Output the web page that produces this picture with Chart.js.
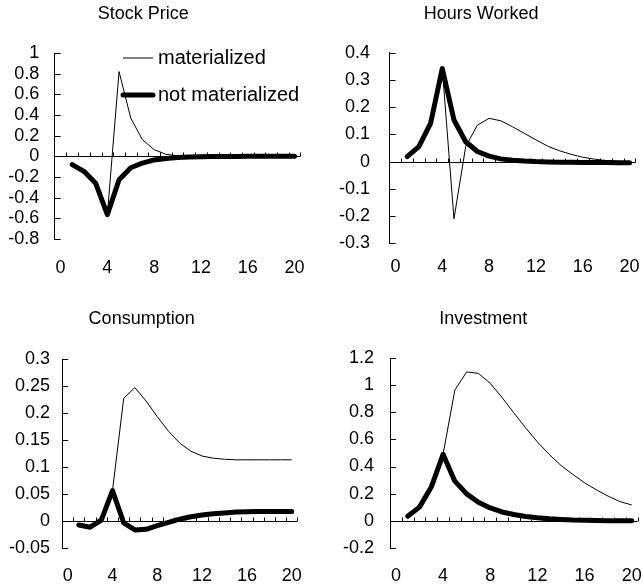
<!DOCTYPE html>
<html>
<head>
<meta charset="utf-8">
<script src="https://cdn.jsdelivr.net/npm/chart.js@4/dist/chart.umd.min.js"></script>
<style>
html, body { margin: 0; padding: 0; background: #fff; }
#wrap { position: relative; width: 643px; height: 588px; overflow: hidden; }
canvas { position: absolute; }
</style>
</head>
<body>
<div id="wrap">
  <canvas id="cStock"></canvas>
  <canvas id="cHours"></canvas>
  <canvas id="cCons"></canvas>
  <canvas id="cInv"></canvas>
</div>
<script>
// data
const periods = [1, 2, 3, 4, 5, 6, 7, 8, 9, 10, 11, 12, 13, 14, 15, 16, 17, 18, 19, 20];
const xTickValues = [0, 4, 8, 12, 16, 20];
const seriesNames = ['materialized', 'not materialized'];

const stockMaterialized = [-0.08, -0.145, -0.26, -0.565, 0.82, 0.37, 0.16, 0.065, 0.02, 0.005, 0, 0, 0, 0, 0, 0, 0, 0, 0, 0];
const stockNotMaterialized = [-0.08, -0.145, -0.26, -0.565, -0.226, -0.11, -0.065, -0.035, -0.02, -0.012, -0.007, -0.004, -0.002, -0.001, -0.001, 0, 0, 0, 0, 0];
const stockTicks = [-0.8, -0.6, -0.4, -0.2, 0, 0.2, 0.4, 0.6, 0.8, 1];

const hoursMaterialized = [0.018, 0.055, 0.14, 0.342, -0.21, 0.055, 0.134, 0.159, 0.15, 0.128, 0.104, 0.08, 0.057, 0.04, 0.027, 0.016, 0.009, 0.004, 0.001, -0.002];
const hoursNotMaterialized = [0.018, 0.055, 0.14, 0.342, 0.153, 0.073, 0.037, 0.02, 0.01, 0.005, 0.002, 0, -0.001, -0.002, -0.002, -0.003, -0.003, -0.003, -0.004, -0.004];
const hoursTicks = [-0.3, -0.2, -0.1, 0, 0.1, 0.2, 0.3, 0.4];

const consMaterialized = [-0.008, -0.012, 0.001, 0.056, 0.227, 0.247, 0.222, 0.193, 0.166, 0.144, 0.129, 0.12, 0.116, 0.114, 0.113, 0.113, 0.113, 0.113, 0.113, 0.113];
const consNotMaterialized = [-0.008, -0.012, 0.001, 0.056, -0.004, -0.017, -0.016, -0.009, -0.003, 0.003, 0.0075, 0.0105, 0.013, 0.0145, 0.016, 0.0165, 0.017, 0.0172, 0.017, 0.017];
const consTicks = [-0.05, 0, 0.05, 0.1, 0.15, 0.2, 0.25, 0.3];

const invMaterialized = [0.032, 0.1, 0.248, 0.49, 0.965, 1.099, 1.089, 1.015, 0.911, 0.797, 0.686, 0.582, 0.49, 0.408, 0.342, 0.28, 0.228, 0.181, 0.141, 0.116];
const invNotMaterialized = [0.032, 0.1, 0.248, 0.49, 0.292, 0.198, 0.136, 0.094, 0.064, 0.045, 0.031, 0.021, 0.014, 0.009, 0.005, 0.003, 0.001, 0, -0.001, -0.001];
const invTicks = [-0.2, 0, 0.2, 0.4, 0.6, 0.8, 1, 1.2];

Chart.defaults.font.family = '"Liberation Sans", Arial, sans-serif';
Chart.defaults.color = '#000';

// zero line with small ticks between periods, plus inner ticks on the y axis
const zeroAxis = {
  id: 'zeroAxis',
  beforeDatasetsDraw(chart) {
    const { ctx, chartArea: a, scales: { x, y } } = chart;
    const y0 = Math.round(y.getPixelForValue(0)) + 0.5;
    ctx.save();
    ctx.strokeStyle = '#000';
    ctx.lineWidth = 1;
    ctx.beginPath();
    ctx.moveTo(a.left, y0);
    ctx.lineTo(a.right, y0);
    for (let k = 0; k <= 20; k++) {
      const px = Math.round(x.getPixelForValue(k + 0.5)) + 0.5;
      ctx.moveTo(px, y0);
      ctx.lineTo(px, y0 - 4);
    }
    y.ticks.forEach(t => {
      const py = Math.round(y.getPixelForValue(t.value)) + 0.5;
      ctx.moveTo(a.left, py);
      ctx.lineTo(a.left + 6, py);
    });
    ctx.stroke();
    ctx.restore();
  }
};

// legend drawn inside the first panel
const insetLegend = {
  id: 'insetLegend',
  afterDraw(chart, args, opts) {
    if (!opts.show) return;
    const ctx = chart.ctx;
    ctx.save();
    ctx.font = opts.size + 'px "Liberation Sans", Arial, sans-serif';
    ctx.textBaseline = 'middle';
    ctx.fillStyle = '#000';
    chart.data.datasets.forEach((ds, i) => {
      const yy = opts.y + i * opts.gap;
      ctx.strokeStyle = ds.borderColor;
      ctx.lineWidth = ds.borderWidth;
      ctx.lineCap = ds.borderCapStyle || 'butt';
      ctx.beginPath();
      ctx.moveTo(opts.x, yy);
      ctx.lineTo(opts.x + opts.len, yy);
      ctx.stroke();
      ctx.fillText(ds.label, opts.x + opts.len + 5, yy);
    });
    ctx.restore();
  }
};

function makePanel(p) {
  const cv = document.getElementById(p.id);
  cv.width = p.w; cv.height = p.h;
  cv.style.left = p.left + 'px';
  cv.style.top = p.top + 'px';
  cv.style.width = p.w + 'px';
  cv.style.height = p.h + 'px';
  return new Chart(cv, {
    type: 'line',
    data: {
      labels: periods,
      datasets: [{
        label: seriesNames[0],
        data: p.mat,
        borderColor: '#000',
        borderWidth: 1,
        pointRadius: 0,
        tension: 0
      }, {
        label: seriesNames[1],
        data: p.notMat,
        borderColor: '#000',
        borderWidth: 5,
        borderCapStyle: 'round',
        borderJoinStyle: 'round',
        pointRadius: 0,
        tension: 0
      }]
    },
    options: {
      responsive: false,
      animation: false,
      devicePixelRatio: 1,
      layout: { padding: { left: 0, right: p.R, top: 0, bottom: 0 } },
      plugins: {
        legend: { display: false },
        tooltip: { enabled: false },
        title: {
          display: true,
          text: p.title,
          font: { size: 18, weight: 'normal' },
          color: '#000',
          padding: { top: p.pt, bottom: p.pb }
        },
        insetLegend: { show: !!p.legend, x: 137, y: 58, gap: 37, len: 30, size: 20 }
      },
      scales: {
        x: {
          type: 'linear',
          min: -0.5,
          max: 20.5,
          grid: { display: false, drawTicks: true, tickLength: p.xPad },
          border: { display: false },
          ticks: { font: { size: 18 }, padding: 0, maxRotation: 0, autoSkip: false, callback: v => String(v) },
          afterBuildTicks: s => { s.ticks = xTickValues.map(v => ({ value: v })); },
          afterFit: s => { s.height = p.Bh; }
        },
        y: {
          type: 'linear',
          min: p.yTicks[0],
          max: p.yTicks[p.yTicks.length - 1],
          grid: { display: false, drawTicks: false },
          border: { display: true, color: '#000', width: 1 },
          ticks: { font: { size: 18 }, padding: p.yPad, autoSkip: false, callback: v => String(v) },
          afterBuildTicks: s => { s.ticks = p.yTicks.map(v => ({ value: v })); },
          afterFit: s => { s.width = p.Lw; }
        }
      }
    },
    plugins: [zeroAxis, insetLegend]
  });
}

makePanel({ id: 'cStock', title: 'Stock Price', mat: stockMaterialized, notMat: stockNotMaterialized, yTicks: stockTicks,
  left: -14, top: 0, w: 324, h: 290, Lw: 68.7, R: 9.6, pt: 3.2, pb: 28.2, Bh: 51, xPad: 18, yPad: 15.4, legend: true });
makePanel({ id: 'cHours', title: 'Hours Worked', mat: hoursMaterialized, notMat: hoursNotMaterialized, yTicks: hoursTicks,
  left: 327, top: 0, w: 316, h: 290, Lw: 62.6, R: 7.6, pt: 3.2, pb: 27.9, Bh: 46.7, xPad: 13, yPad: 19.5 });
makePanel({ id: 'cCons', title: 'Consumption', mat: consMaterialized, notMat: consNotMaterialized, yTicks: consTicks,
  left: -14, top: 290, w: 325, h: 298, Lw: 76.1, R: 13.7, pt: 18.2, pb: 29.2, Bh: 40.3, xPad: 17.5, yPad: 12 });
makePanel({ id: 'cInv', title: 'Investment', mat: invMaterialized, notMat: invNotMaterialized, yTicks: invTicks,
  left: 329, top: 290, w: 314, h: 298, Lw: 61, R: 5.4, pt: 18.2, pb: 28.5, Bh: 40.3, xPad: 17.5, yPad: 16 });
</script>
</body>
</html>
